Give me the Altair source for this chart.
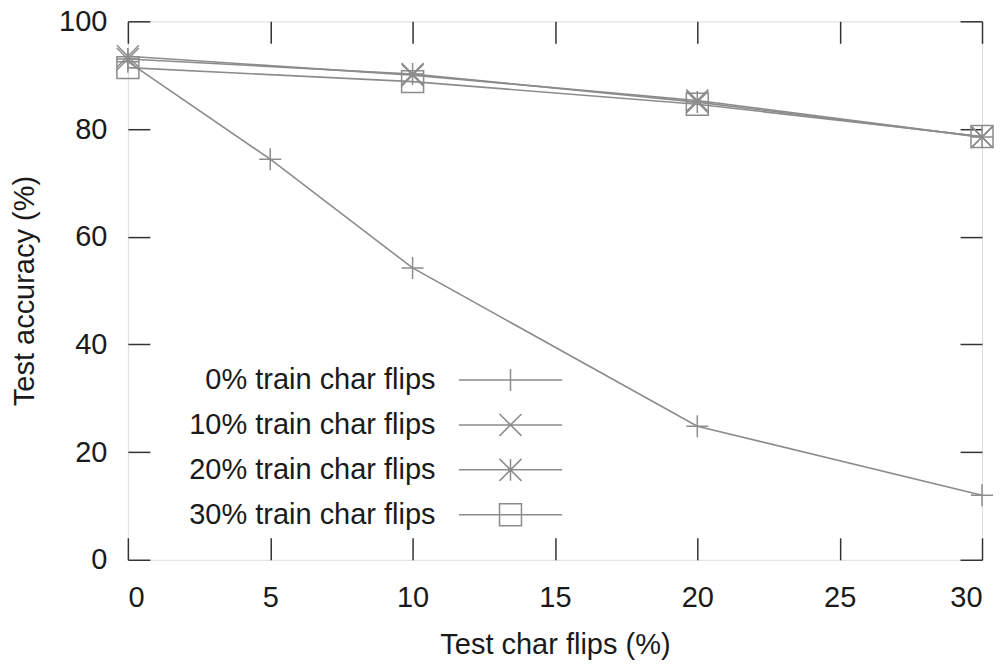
import altair as alt
import pandas as pd

# ---- data ----
series_names = [
    "0% train char flips",
    "10% train char flips",
    "20% train char flips",
    "30% train char flips",
]
x_0 = [0, 5, 10, 20, 30]
acc_0 = [92.5, 74.4, 54.2, 24.8, 12.0]
x_other = [0, 10, 20, 30]
acc_10 = [93.5, 90.0, 85.3, 78.5]
acc_20 = [93.0, 90.2, 85.0, 78.5]
acc_30 = [91.4, 88.8, 84.6, 78.6]
x_ticks = [0, 5, 10, 15, 20, 25, 30]
y_ticks = [0, 20, 40, 60, 80, 100]

rows = []
for xv, yv in zip(x_0, acc_0):
    rows.append({"series": series_names[0], "x": xv, "y": yv})
for name, ys in zip(series_names[1:], [acc_10, acc_20, acc_30]):
    for xv, yv in zip(x_other, ys):
        rows.append({"series": name, "x": xv, "y": yv})
df = pd.DataFrame(rows)

# ---- styling ----
FONT = "Liberation Sans"
GRAY = "#8c8c8c"
DARK = "#333333"
TXT = "#1a1a1a"
FS = 29
TICK = 22

plus = "M-1,0L1,0M0,-1L0,1"
cross = "M-1,-1L1,1M-1,1L1,-1"
star = "M-1,0L1,0M0,-1L0,1M-1,-1L1,1M-1,1L1,-1"
square = "M-1,-1L1,-1L1,1L-1,1Z"
marker_paths = [plus, cross, star, square]
LINE = "M-4.7,0L4.7,0"
legend_paths = [LINE + p for p in marker_paths]

xscale = alt.Scale(domain=[0, 30], nice=False, zero=False)
yscale = alt.Scale(domain=[0, 100], nice=False, zero=False)

main_x_axis = alt.Axis(
    values=x_ticks, ticks=False, domain=False, grid=False,
    labelFont=FONT, labelFontSize=FS, labelColor=TXT, labelPadding=24,
    titleFont=FONT, titleFontSize=FS, titleColor=TXT, titleFontWeight="normal",
    titlePadding=18, orient="bottom",
)
main_y_axis = alt.Axis(
    values=y_ticks, ticks=False, domain=False, grid=False,
    labelFont=FONT, labelFontSize=FS, labelColor=TXT, labelPadding=21,
    titleFont=FONT, titleFontSize=FS, titleColor=TXT, titleFontWeight="normal",
    titlePadding=19, orient="left",
)


def tick_axis(values, orient):
    return alt.Axis(
        values=values, orient=orient, offset=-TICK, tickSize=TICK,
        tickColor=DARK, tickWidth=1.5, labels=False, domain=False,
        grid=False, title=None,
    )


lines = alt.Chart(df).mark_line(color=GRAY, strokeWidth=1.6).encode(
    x=alt.X("x:Q", scale=xscale, axis=main_x_axis, title="Test char flips (%)"),
    y=alt.Y("y:Q", scale=yscale, axis=main_y_axis, title="Test accuracy (%)"),
    detail="series:N",
)

points = alt.Chart(df).mark_point(
    filled=False, color=GRAY, strokeWidth=1.5, size=484, opacity=1
).encode(
    x=alt.X("x:Q", scale=xscale, axis=None),
    y=alt.Y("y:Q", scale=yscale, axis=None),
    shape=alt.Shape("series:N", scale=alt.Scale(domain=series_names, range=marker_paths), legend=None),
)

legend_layer = alt.Chart(df).mark_point(
    filled=False, color=GRAY, strokeWidth=1.5, size=484, opacity=0
).encode(
    x=alt.X("x:Q", scale=xscale, axis=None),
    y=alt.Y("y:Q", scale=yscale, axis=None),
    shape=alt.Shape(
        "series:N",
        scale=alt.Scale(domain=series_names, range=legend_paths),
        legend=alt.Legend(
            orient="none", legendX=368.5, legendY=344.5, title=None,
            labelFont=FONT, labelFontSize=FS, labelColor=TXT,
            labelAlign="right", labelOffset=alt.ExprRef(expr="-89.5"), symbolOffset=0,
            symbolSize=484, symbolStrokeWidth=1.5, symbolStrokeColor=GRAY,
            symbolFillColor="transparent", rowPadding=15, padding=0,
            labelLimit=400,
        ),
    ),
)

ticks_bl = alt.Chart(df).mark_point(opacity=0).encode(
    x=alt.X("x:Q", scale=xscale, axis=tick_axis(x_ticks, "bottom")),
    y=alt.Y("y:Q", scale=yscale, axis=tick_axis(y_ticks, "left")),
)
ticks_tr = alt.Chart(df).mark_point(opacity=0).encode(
    x=alt.X("x:Q", scale=xscale, axis=tick_axis(x_ticks, "top")),
    y=alt.Y("y:Q", scale=yscale, axis=tick_axis(y_ticks, "right")),
)

chart = (
    alt.layer(lines, points, legend_layer, ticks_bl, ticks_tr)
    .resolve_scale(shape="independent")
    .resolve_axis(x="independent", y="independent")
    .properties(
        width=855, height=539,
        autosize=alt.AutoSizeParams(type="none"),
        padding={"left": 120, "top": 13, "right": 12, "bottom": 106},
    )
    .configure_view(stroke=DARK, strokeWidth=1.5)
    .configure(background="white")
)

chart.save("out.html", embed_options={"renderer": "svg", "actions": False})
